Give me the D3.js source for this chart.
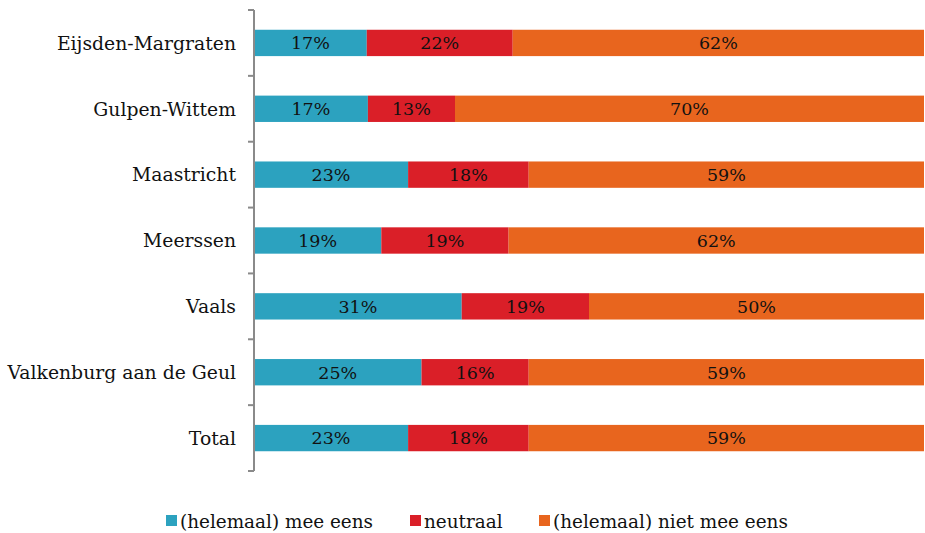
<!DOCTYPE html>
<html>
<head>
<meta charset="utf-8">
<script src="https://cdn.jsdelivr.net/npm/d3@7"></script>
<style>
  body { margin: 0; background: #fff; }
  svg { display: block; }
  text { font-family: "DejaVu Serif", "Liberation Serif", serif; fill: #111; }
</style>
</head>
<body>
<svg id="chart" width="925" height="533"></svg>
<script>
// Survey answers per municipality (percent)
const categories = ["Eijsden-Margraten", "Gulpen-Wittem", "Maastricht", "Meerssen", "Vaals", "Valkenburg aan de Geul", "Total"];
const seriesNames = ["(helemaal) mee eens", "neutraal", "(helemaal) niet mee eens"];
const agree    = [17, 17, 23, 19, 31, 25, 23];
const neutral  = [22, 13, 18, 19, 19, 16, 18];
const disagree = [62, 70, 59, 62, 50, 59, 59];
const colors = ["#2ca2bf", "#da1f28", "#e8651e"];

const svg = d3.select("#chart");
const margin = { top: 10, right: 1, bottom: 62, left: 254 };
const W = 925, H = 533;

const rows = categories.map((c, i) => {
  const vals = [agree[i], neutral[i], disagree[i]];
  const total = d3.sum(vals);
  let acc = 0;
  const segs = vals.map((v, k) => {
    const s = { key: k, value: v, x0: acc / total, x1: (acc + v) / total };
    acc += v;
    return s;
  });
  return { cat: c, segs };
});

const x = d3.scaleLinear().domain([0, 1]).range([margin.left, W - margin.right]);
const y = d3.scaleBand().domain(categories).range([margin.top, H - margin.bottom]).paddingInner(0.6).paddingOuter(0.3);

const g = svg.append("g");
const row = g.selectAll("g.row").data(rows).join("g").attr("class", "row");

row.selectAll("rect").data(d => d.segs.map(s => ({ ...s, cat: d.cat }))).join("rect")
  .attr("x", d => x(d.x0))
  .attr("width", d => x(d.x1) - x(d.x0))
  .attr("y", d => y(d.cat))
  .attr("height", y.bandwidth())
  .attr("fill", d => colors[d.key]);

row.selectAll("text.val").data(d => d.segs.map(s => ({ ...s, cat: d.cat }))).join("text")
  .attr("class", "val")
  .attr("x", d => (x(d.x0) + x(d.x1)) / 2)
  .attr("y", d => y(d.cat) + y.bandwidth() / 2)
  .attr("dy", "0.36em")
  .attr("text-anchor", "middle")
  .style("font-size", "17.5px")
  .text(d => d.value + "%");

// Category axis with ticks between bands
const step = y.step();
const boundaries = d3.range(categories.length + 1).map(i => margin.top + i * step);
const axisG = svg.append("g");
axisG.append("line")
  .attr("x1", margin.left).attr("x2", margin.left)
  .attr("y1", boundaries[0]).attr("y2", boundaries[boundaries.length - 1])
  .attr("stroke", "#8a8a8a").attr("stroke-width", 2);
axisG.selectAll("line.tick").data(boundaries).join("line")
  .attr("class", "tick")
  .attr("x1", margin.left - 6).attr("x2", margin.left)
  .attr("y1", d => d).attr("y2", d => d)
  .attr("stroke", "#8a8a8a").attr("stroke-width", 2);
axisG.selectAll("text").data(categories).join("text")
  .attr("x", margin.left - 18)
  .attr("y", d => y(d) + y.bandwidth() / 2)
  .attr("dy", "0.36em")
  .attr("text-anchor", "end")
  .style("font-size", "18.8px")
  .text(d => d);

// Legend
const legendX = [166, 410, 539];
const legend = svg.append("g").selectAll("g").data(seriesNames).join("g")
  .attr("transform", (d, i) => `translate(${legendX[i]},521)`);
legend.append("rect").attr("x", 0).attr("y", -6).attr("width", 11).attr("height", 11)
  .attr("fill", (d, i) => colors[i]);
legend.append("text").attr("x", 14).attr("y", 0).attr("dy", "0.36em")
  .style("font-size", "18.4px").text(d => d);
</script>
</body>
</html>
